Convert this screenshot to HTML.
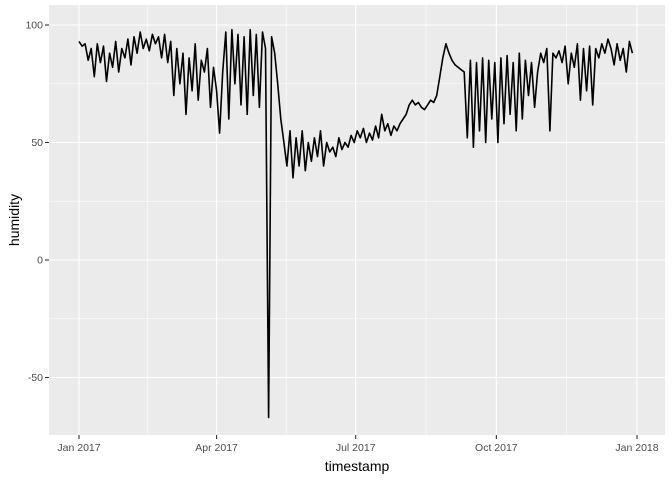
<!DOCTYPE html>
<html><head><meta charset="utf-8"><style>
body{margin:0;background:#fff;font-family:"Liberation Sans",Arial,sans-serif}
svg text{font-family:"Liberation Sans",Arial,sans-serif}
</style></head><body>
<svg id="chart" width="672" height="480">
<rect x="49" y="5" width="616" height="430" fill="#ebebeb"/>
<g id="grid"></g><g id="marks"></g><g id="axes"></g>
<text x="357" y="471" text-anchor="middle" font-size="14" fill="#000">timestamp</text>
<text transform="translate(19,220) rotate(-90)" text-anchor="middle" font-size="14" fill="#000">humidity</text>
</svg>
<script>
const yTicks=[100,50,0,-50];
const xTickDays=[0,90,181,273,365];
const xTickLabels=["Jan 2017","Apr 2017","Jul 2017","Oct 2017","Jan 2018"];
const stepDays=2;
const humidity=[
93,91,92,85,90,78,92,84,91,76,88,82,93,80,90,
86,94,83,95,88,97,90,94,89,96,92,95,86,96,84,
93,70,90,75,88,62,86,72,92,68,85,80,90,65,82,
72,54,80,97,60,98,75,96,66,95,62,98,70,96,65,
97,90,-67,95,88,75,60,50,40,55,35,52,40,55,38,
50,42,52,44,55,40,50,46,48,44,52,47,50,48,53,
50,55,52,56,50,54,51,57,52,62,55,58,53,57,55,
58,60,62,66,68,66,67,65,64,66,68,67,70,78,86,
92,88,85,83,82,81,80,52,85,48,84,55,86,50,85,
60,84,50,86,58,87,62,84,55,88,60,85,70,84,65,
80,88,84,90,55,88,86,89,84,91,75,88,82,92,68,
90,72,91,66,90,86,92,88,94,90,83,92,85,90,80,93,88];
const NS="http://www.w3.org/2000/svg";
const X=d=>79+d*(558/365);
const Y=v=>260-v*2.35;
const grid=document.getElementById('grid'),axes=document.getElementById('axes'),marks=document.getElementById('marks');
function mk(tag,attrs,parent){const e=document.createElementNS(NS,tag);for(const k in attrs)e.setAttribute(k,attrs[k]);parent.appendChild(e);return e;}
for(let i=0;i<yTicks.length-1;i++){const v=(yTicks[i]+yTicks[i+1])/2;
const l=mk('line',{x1:49,x2:665,y1:Y(v),y2:Y(v),stroke:'#fff','stroke-width':0.55},grid);

}
for(let i=0;i<xTickDays.length-1;i++){const d=(xTickDays[i]+xTickDays[i+1])/2;
const l=mk('line',{x1:X(d),x2:X(d),y1:5,y2:435,stroke:'#fff','stroke-width':0.55},grid);

}
yTicks.forEach(v=>{
const l=mk('line',{x1:49,x2:665,y1:Y(v),y2:Y(v),stroke:'#fff','stroke-width':1.1},grid);


const t=mk('line',{x1:45,x2:49,y1:Y(v),y2:Y(v),stroke:'#333','stroke-width':1.1},axes);


const tx=mk('text',{x:43,y:Y(v)+3.5,'text-anchor':'end','font-size':'10.5',fill:'#4d4d4d'},axes);
tx.textContent=v;

});
xTickDays.forEach((d,i)=>{
const l=mk('line',{x1:X(d),x2:X(d),y1:5,y2:435,stroke:'#fff','stroke-width':1.1},grid);


const t=mk('line',{x1:X(d),x2:X(d),y1:435,y2:439,stroke:'#333','stroke-width':1.1},axes);


const tx=mk('text',{x:X(d),y:451,'text-anchor':'middle','font-size':'10.5',fill:'#4d4d4d'},axes);
tx.textContent=xTickLabels[i];

});
const pts=humidity.map((v,i)=>X(i*stepDays).toFixed(1)+','+Y(v).toFixed(1)).join(' ');
const line=mk('polyline',{points:pts,fill:'none',stroke:'#000','stroke-width':1.6,'stroke-linejoin':'round'},marks);


</script>
</body></html>
